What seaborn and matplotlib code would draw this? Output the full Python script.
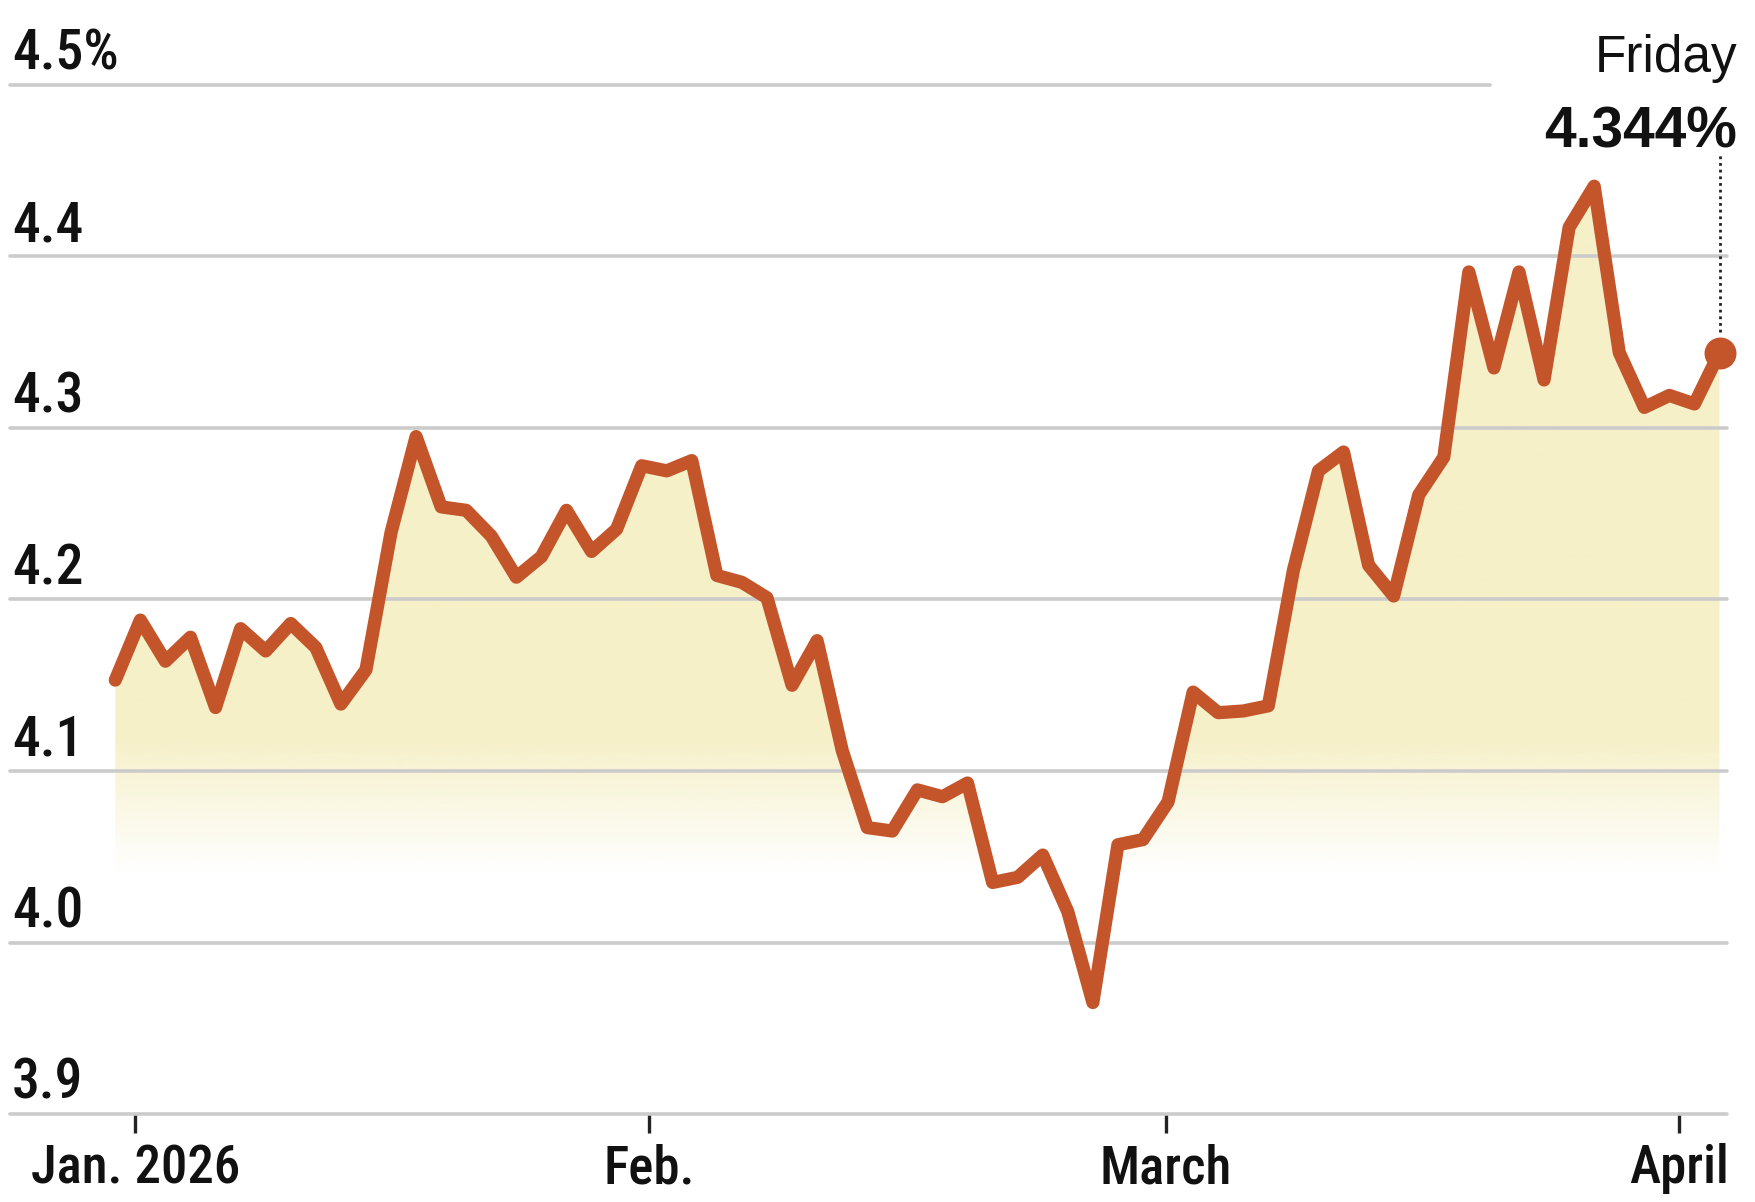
import numpy as np
import pandas as pd
import seaborn as sns
import matplotlib.pyplot as plt
from matplotlib import font_manager
from matplotlib.colors import to_rgb

# trading days from the last session of 2025 to Friday, April 3 2026
holidays = pd.to_datetime(["2026-01-01", "2026-01-19", "2026-02-16"])
trade_days = pd.bdate_range("2025-12-31", "2026-04-03")
trade_days = trade_days[~trade_days.isin(holidays)]

# 10-year yield, %
yields = [4.153, 4.188, 4.164, 4.178, 4.137, 4.183, 4.170, 4.186, 4.172, 4.139,
          4.159, 4.239, 4.295, 4.254, 4.252, 4.237, 4.213, 4.225, 4.252, 4.228,
          4.241, 4.278, 4.275, 4.281, 4.214, 4.210, 4.201, 4.150, 4.176, 4.112,
          4.067, 4.065, 4.089, 4.085, 4.093, 4.035, 4.038, 4.051, 4.018, 3.965,
          4.057, 4.060, 4.082, 4.146, 4.134, 4.135, 4.138, 4.217, 4.275, 4.286,
          4.220, 4.202, 4.261, 4.283, 4.391, 4.335, 4.391, 4.328, 4.417, 4.441,
          4.344, 4.312, 4.319, 4.314, 4.344]

y_ticks = [3.9, 4.0, 4.1, 4.2, 4.3, 4.4, 4.5]
y_tick_labels = ["3.9", "4.0", "4.1", "4.2", "4.3", "4.4", "4.5%"]
month_labels = ["Jan. 2026", "Feb.", "March", "April"]
month_ticks = [0.8, 21.3, 41.9, 62.4]   # where the printed chart puts its month marks
last_label = "Friday"

df = pd.DataFrame({"date": trade_days[:len(yields)],
                   "day": np.arange(len(yields)),
                   "yield": yields})

line_color = "#c4542a"
fill_color = "#f6f0c8"
grid_color = "#cbcbcb"

# narrow face for the axis labels, if one is installed
installed = {f.name for f in font_manager.fontManager.ttflist}
narrow = [f for f in ["Liberation Sans Narrow", "Roboto Condensed", "DejaVu Sans Condensed",
                      "Open Sans Condensed", "Noto Sans Condensed", "Liberation Sans"]
          if f in installed]
narrow_font = narrow[0] if narrow else "DejaVu Sans"

sns.set_style("white")
plt.rcParams["font.family"] = [narrow_font, "DejaVu Sans"]

fig = plt.figure(figsize=(17.56, 12.02), dpi=100)
ax = fig.add_axes([0.0057, 0.0732, 0.9778, 0.8561])

# pale yellow area under the line, fading out near the bottom
poly = ax.fill_between(df["day"], df["yield"], 3.9, facecolor="none", edgecolor="none")
ys = np.linspace(3.9, 4.5, 400)
rgba = np.zeros((400, 1, 4))
rgba[..., :3] = to_rgb(fill_color)
rgba[:, 0, 3] = np.clip((ys - 4.04) / 0.08, 0, 1)
im = ax.imshow(rgba, extent=(df["day"].min(), df["day"].max(), 3.9, 4.5),
               origin="lower", aspect="auto", zorder=1)
im.set_clip_path(poly.get_paths()[0], transform=ax.transData)

for v in y_ticks:
    ax.axhline(v, color=grid_color, lw=2.6, zorder=2, clip_on=False,
               xmax=0.862 if v == 4.5 else 1)

sns.lineplot(data=df, x="day", y="yield", color=line_color, linewidth=9.5,
             ax=ax, zorder=4)
ax.plot(df["day"].iloc[-1], df["yield"].iloc[-1], marker="o", ms=22,
        color=line_color, zorder=5, clip_on=False)
ax.plot([df["day"].iloc[-1]] * 2, [df["yield"].iloc[-1] + 0.012, 4.46],
        color="#222222", lw=2, ls=(0, (1, 1.4)), zorder=5, clip_on=False)

ax.set_xlim(-4.2, 64.3)
ax.set_ylim(3.9, 4.5)
ax.set_xlabel("")
ax.set_ylabel("")
sns.despine(ax=ax, left=True, bottom=True)
ax.set_yticks([])
ax.set_xticks(month_ticks, month_labels)
ax.tick_params(axis="x", length=14, width=2.4, color="#222222", pad=7,
               labelsize=38, labelcolor="#111111", direction="out", bottom=True)
for t in ax.get_xticklabels():
    t.set_fontweight("medium")

for v, lab in zip(y_ticks, y_tick_labels):
    ax.annotate(lab, xy=(0, v), xycoords=("axes fraction", "data"),
                xytext=(1.5, 11), textcoords="offset points", fontweight="medium",
                ha="left", va="baseline", fontsize=40, color="#111111")

fig.text(0.9892, 0.9401, last_label, ha="right", va="baseline", fontsize=37,
         color="#111111", family=["Liberation Sans", "DejaVu Sans"])
fig.text(0.9892, 0.8769, f"{yields[-1]:.3f}%", ha="right", va="baseline",
         fontsize=41, fontweight="bold", color="#111111",
         family=["Liberation Sans", "DejaVu Sans"])

fig.savefig("out.png", dpi=100)
